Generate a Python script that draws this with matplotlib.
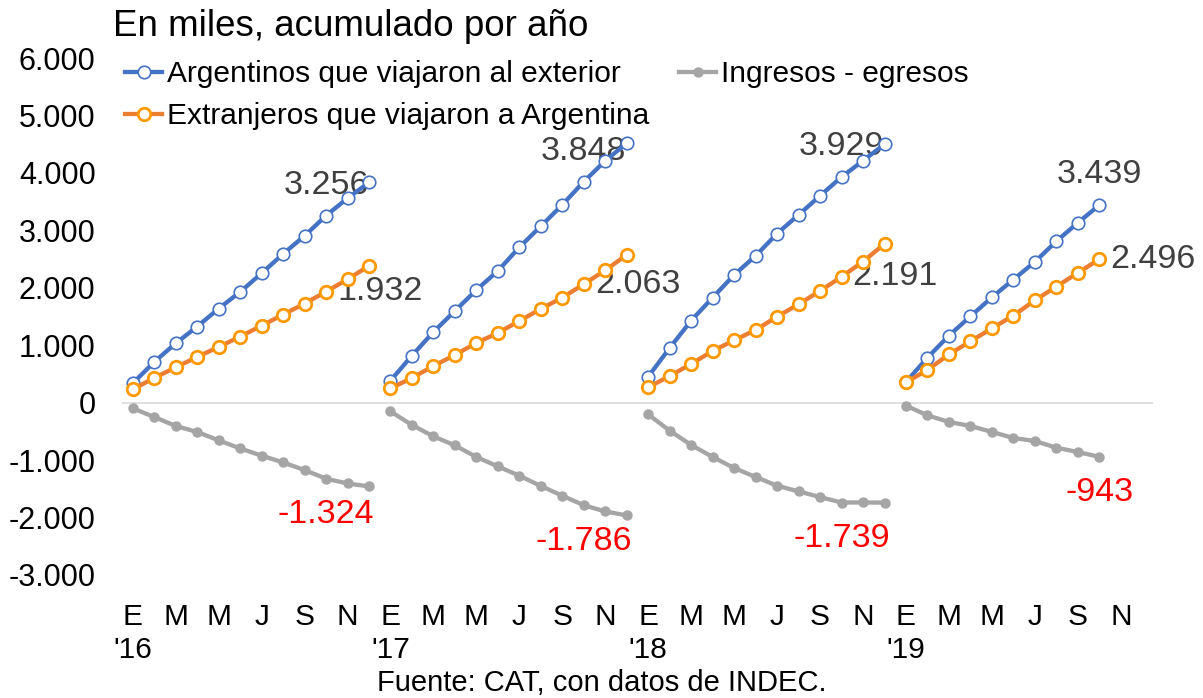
import matplotlib
matplotlib.use("Agg")
import matplotlib.pyplot as plt
from matplotlib.lines import Line2D

plt.rcParams['font.family'] = ['Liberation Sans', 'DejaVu Sans']

# ---- data (miles, acumulado por año) ----
year_labels = ["'16", "'17", "'18", "'19"]
month_letters = ["E", "M", "M", "J", "S", "N"]

argentinos_16 = [336, 709, 1033, 1324, 1638, 1928, 2252, 2590, 2904, 3256, 3559, 3833]
argentinos_17 = [383, 819, 1232, 1597, 1963, 2294, 2706, 3072, 3444, 3848, 4211, 4518]
argentinos_18 = [453, 953, 1429, 1829, 2225, 2556, 2944, 3270, 3601, 3929, 4211, 4500]
argentinos_19 = [360, 784, 1167, 1503, 1834, 2143, 2451, 2810, 3131, 3439]

extranjeros_16 = [232, 430, 615, 796, 970, 1150, 1341, 1533, 1725, 1932, 2148, 2382]
extranjeros_17 = [249, 430, 639, 831, 1040, 1214, 1423, 1632, 1829, 2063, 2305, 2573]
extranjeros_18 = [267, 465, 674, 901, 1085, 1266, 1498, 1713, 1946, 2191, 2456, 2765]
extranjeros_19 = [354, 570, 841, 1068, 1294, 1516, 1782, 2021, 2260, 2496]

saldo_16 = [-99, -249, -406, -510, -656, -796, -923, -1040, -1173, -1324, -1406, -1458]
saldo_17 = [-152, -389, -587, -744, -946, -1110, -1272, -1451, -1620, -1786, -1894, -1963]
saldo_18 = [-204, -488, -737, -946, -1138, -1294, -1446, -1545, -1643, -1739, -1737, -1740]
saldo_19 = [-52, -221, -336, -406, -510, -615, -667, -784, -859, -943]

argentinos = [argentinos_16, argentinos_17, argentinos_18, argentinos_19]
extranjeros = [extranjeros_16, extranjeros_17, extranjeros_18, extranjeros_19]
saldo = [saldo_16, saldo_17, saldo_18, saldo_19]

label_month = 9  # octubre: etiquetas comparables con 2019

BLUE = '#4472C4'
ORANGE = '#ED7D31'
ORANGE_MK = '#FF9900'
GRAY = '#A5A5A5'
LABEL_GRAY = '#404040'

fig = plt.figure(figsize=(12.03, 6.98), dpi=100)
ax = fig.add_axes([122 / 1203, 1 - 575 / 698, 1031 / 1203, 517 / 698])

lw = 3.1
for yi in range(len(year_labels)):
    xs = [yi * 12 + m for m in range(len(argentinos[yi]))]
    ax.plot(xs, saldo[yi], color=GRAY, lw=lw, marker='o', ms=6.5,
            mfc=GRAY, mec=GRAY, zorder=3, solid_capstyle='round')
    ax.plot(xs, argentinos[yi], color=BLUE, lw=lw, marker='o', ms=9,
            mfc='white', mec=BLUE, mew=1.2, zorder=4)
    ax.plot(xs, extranjeros[yi], color=ORANGE, lw=lw, marker='o', ms=9,
            mfc='white', mec=ORANGE_MK, mew=2.0, zorder=5)

    xl = yi * 12 + label_month
    fs_lab = 24.5
    ax.annotate(f"{argentinos[yi][label_month]:,}".replace(',', '.'),
                (xl, argentinos[yi][label_month]), xytext=(0, 22),
                textcoords='offset points', ha='center', va='center',
                fontsize=fs_lab, color=LABEL_GRAY, zorder=1)
    ax.annotate(f"{extranjeros[yi][label_month]:,}".replace(',', '.'),
                (xl, extranjeros[yi][label_month]), xytext=(8, 0),
                textcoords='offset points', ha='left', va='center',
                fontsize=fs_lab, color=LABEL_GRAY, zorder=1)
    ax.annotate(f"{saldo[yi][label_month]:,}".replace(',', '.'),
                (xl, saldo[yi][label_month]), xytext=(0, -26),
                textcoords='offset points', ha='center', va='center',
                fontsize=fs_lab, color='#FF0000', zorder=1)

ax.axhline(0, color='#D9D9D9', lw=1.2, zorder=1)

ax.set_xlim(-0.5, 47.5)
ax.set_ylim(-3000, 6000)
yt = list(range(-3000, 6001, 1000))
ax.set_yticks(yt)
ax.set_yticklabels([f"{v:,}".replace(',', '.') for v in yt])

xt = list(range(0, 48, 2))
xtl = []
for p in xt:
    m = month_letters[(p % 12) // 2]
    if p % 12 == 0:
        m = m + "\n" + year_labels[p // 12]
    xtl.append(m)
ax.set_xticks(xt)
ax.set_xticklabels(xtl, linespacing=1.25)
for lab in ax.get_xticklabels():
    lab.set_horizontalalignment('center')
    lab.set_multialignment('center')

ax.tick_params(axis='y', length=0, pad=19, labelsize=22)
ax.tick_params(axis='x', length=0, pad=20, labelsize=21.5)
for s in ax.spines.values():
    s.set_visible(False)

fig.text(113 / 1203, 1 - 27 / 698, "En miles, acumulado por año",
         fontsize=26.5, ha='left', va='center')

handles = [
    Line2D([], [], color=BLUE, lw=lw, marker='o', ms=9, mfc='white', mec=BLUE, mew=1.2),
    Line2D([], [], color=ORANGE, lw=lw, marker='o', ms=9, mfc='white', mec=ORANGE_MK, mew=2.0),
    Line2D([], [], color=GRAY, lw=lw, marker='o', ms=6.5, mfc=GRAY, mec=GRAY),
]
labels = ["Argentinos que viajaron al exterior",
          "Extranjeros que viajaron a Argentina",
          "Ingresos - egresos"]
fig.legend(handles, labels, loc='upper left', bbox_to_anchor=(125 / 1203, 1 - 60 / 698),
           ncol=2, frameon=False, fontsize=21.5, handlelength=1.25, handletextpad=0.15,
           columnspacing=1.0, labelspacing=0.47, borderpad=0, borderaxespad=0)

fig.text(0.5, 1 - 683 / 698, "Fuente: CAT, con datos de INDEC.",
         fontsize=21, ha='center', va='center')

fig.savefig("out.png", dpi=100)
